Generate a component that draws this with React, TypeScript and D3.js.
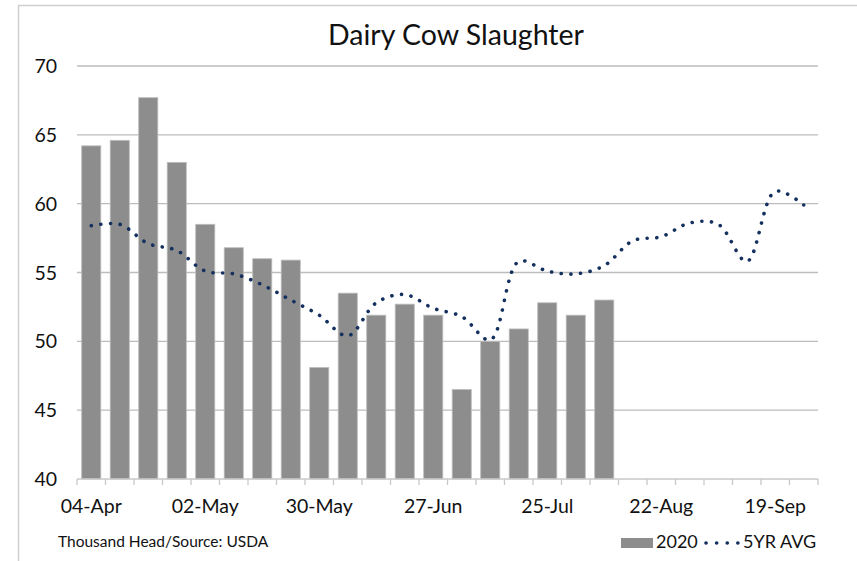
import React from "react";
import * as d3 from "d3";

const categories = [
  "04-Apr", "11-Apr", "18-Apr", "25-Apr", "02-May", "09-May", "16-May", "23-May",
  "30-May", "06-Jun", "13-Jun", "20-Jun", "27-Jun", "04-Jul", "11-Jul", "18-Jul",
  "25-Jul", "01-Aug", "08-Aug", "15-Aug", "22-Aug", "29-Aug", "05-Sep", "12-Sep",
  "19-Sep", "26-Sep",
];
const series2020 = [
  64.2, 64.6, 67.7, 63.0, 58.5, 56.8, 56.0, 55.9, 48.1, 53.5, 51.9, 52.7, 51.9, 46.5,
  50.0, 50.9, 52.8, 51.9, 53.0,
];
const series5yr = [
  58.4, 58.5, 57.1, 56.6, 55.1, 54.9, 54.1, 53.0, 51.9, 50.4, 52.8, 53.4, 52.4, 51.8,
  50.1, 55.8, 55.1, 54.9, 55.5, 57.3, 57.6, 58.6, 58.5, 55.8, 60.9, 59.9,
];
const yTicks = [40, 45, 50, 55, 60, 65, 70];
const xLabelIdx = [0, 4, 8, 12, 16, 20, 24];

const W = 857;
const H = 561;
const left = 77;
const right = 818;
const top = 66;
const bottom = 479;
const font = "Lato, 'Open Sans', sans-serif";

export default function App() {
  const x = d3.scaleBand<string>().domain(categories).range([left, right]).paddingInner(0.33).paddingOuter(0.165);
  const xc = d3.scaleBand<string>().domain(categories).range([left, right]);
  const y = d3.scaleLinear().domain([40, 70]).range([bottom, top]);
  const line = d3
    .line<number>()
    .x((_, i) => (xc(categories[i]) as number) + xc.bandwidth() / 2)
    .y((d) => y(d))
    .curve(d3.curveCatmullRom.alpha(0.5));
  const step = xc.step();
  return (
    <svg
      width={W}
      height={H}
      style={{ position: "absolute", left: 0, top: 0, background: "#fff" }}
      fontFamily={font}
    >
      <rect x={18.5} y={5.5} width={W} height={H} fill="#fff" stroke="#d0d0d0" strokeWidth={1.5} />
      <text x={456} y={45} textAnchor="middle" fontSize={28.5} fill="#111">
        Dairy Cow Slaughter
      </text>
      {yTicks.map((t) => (
        <g key={t}>
          {t !== 40 && (
            <line x1={left} x2={right} y1={y(t)} y2={y(t)} stroke="#bdbdbd" strokeWidth={1.3} />
          )}
          <text x={57} y={y(t) + 7} textAnchor="end" fontSize={19.5} fill="#111">
            {t}
          </text>
        </g>
      ))}
      {series2020.map((v, i) => (
        <rect
          key={i}
          x={x(categories[i])}
          y={y(v)}
          width={x.bandwidth()}
          height={bottom - y(v)}
          fill="#8c8d8c"
          stroke="#bdbdbd"
          strokeWidth={0.8}
        />
      ))}
      <line x1={left} x2={right} y1={bottom} y2={bottom} stroke="#c8c8c8" strokeWidth={1.5} />
      {d3.range(categories.length + 1).map((i) => (
        <line
          key={i}
          x1={left + i * step}
          x2={left + i * step}
          y1={bottom}
          y2={bottom + 6}
          stroke="#c8c8c8"
          strokeWidth={1.3}
        />
      ))}
      {xLabelIdx.map((i) => (
        <text
          key={i}
          x={(xc(categories[i]) as number) + xc.bandwidth() / 2}
          y={513}
          textAnchor="middle"
          fontSize={19.5}
          fill="#111"
        >
          {categories[i]}
        </text>
      ))}
      <path
        d={line(series5yr) || ""}
        fill="none"
        stroke="#14305e"
        strokeWidth={3.6}
        strokeLinecap="round"
        strokeDasharray="0.1 9.6"
      />
      <text x={58} y={547} fontSize={15.5} fill="#111">
        Thousand Head/Source: USDA
      </text>
      <rect x={621} y={538} width={32} height={10} fill="#8c8d8c" />
      <text x={656} y={548} fontSize={18} fill="#111">
        2020
      </text>
      <line
        x1={706}
        x2={740}
        y1={543}
        y2={543}
        stroke="#14305e"
        strokeWidth={3.6}
        strokeLinecap="round"
        strokeDasharray="0.1 10.5"
      />
      <text x={743} y={548} fontSize={18} fill="#111">
        5YR AVG
      </text>
    </svg>
  );
}
